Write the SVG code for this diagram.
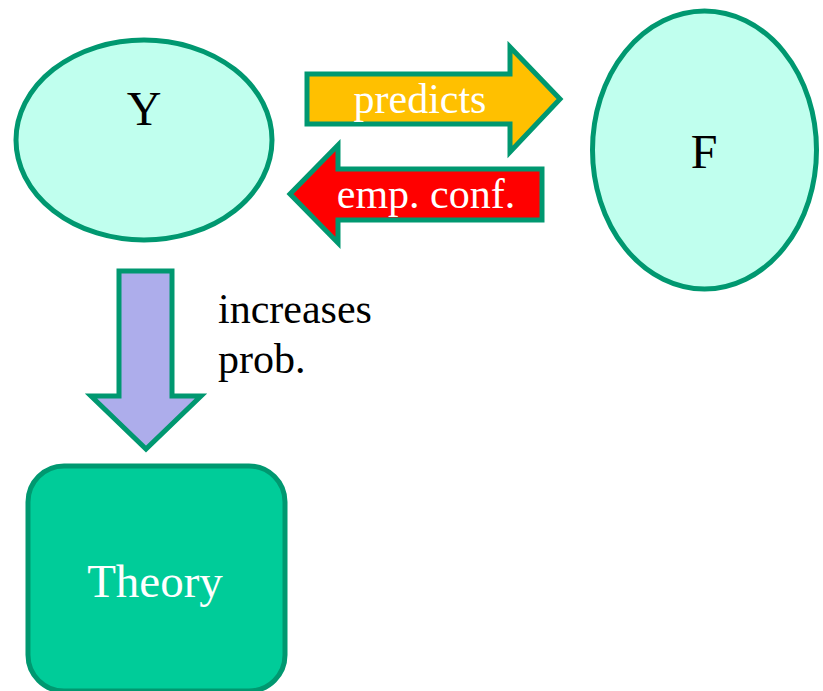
<svg xmlns="http://www.w3.org/2000/svg" width="823" height="691" viewBox="0 0 823 691">
<style>
.shape{stroke:#009870;stroke-width:5;stroke-linejoin:miter}
.t{font-family:"Liberation Serif","Times New Roman",serif}
</style>
<rect width="823" height="691" fill="#ffffff"/>
<g id="node-Y">
<ellipse class="shape" cx="144" cy="140" rx="128" ry="100" fill="#C0FFEE"/>
<text class="t" x="144" y="125" font-size="48" text-anchor="middle" fill="#000">Y</text>
</g>
<g id="node-F">
<ellipse class="shape" cx="704.5" cy="150" rx="112" ry="139" fill="#C0FFEE"/>
<text class="t" x="704" y="168" font-size="48" text-anchor="middle" fill="#000">F</text>
</g>
<g id="node-Theory">
<rect class="shape" x="28" y="466" width="257" height="225" rx="36" ry="36" fill="#00CC99"/>
<text class="t" x="155" y="597" font-size="47" text-anchor="middle" fill="#ffffff">Theory</text>
</g>
<g id="connectors">
<g id="predicts">
<polygon class="shape" points="307,74 510,74 510,47 560,99 510,152 510,124 307,124" fill="#FFC000"/>
<text class="t" x="420" y="113" font-size="42" text-anchor="middle" fill="#ffffff">predicts</text>
</g>
<g id="empconf">
<polygon class="shape" points="542,169 338,169 338,145 290,194 338,243 338,220 542,220" fill="#FF0000"/>
<text class="t" x="426" y="208" font-size="42" text-anchor="middle" fill="#ffffff">emp. conf.</text>
</g>
<g id="increases">
<polygon class="shape" points="119,271 172,271 172,396 201,396 146,449 91,396 119,396" fill="#ADADEB"/>
</g>
<text class="t" x="218" y="323" font-size="42" fill="#000">increases</text>
<text class="t" x="218" y="373" font-size="42" fill="#000">prob.</text>
</g>
</svg>
